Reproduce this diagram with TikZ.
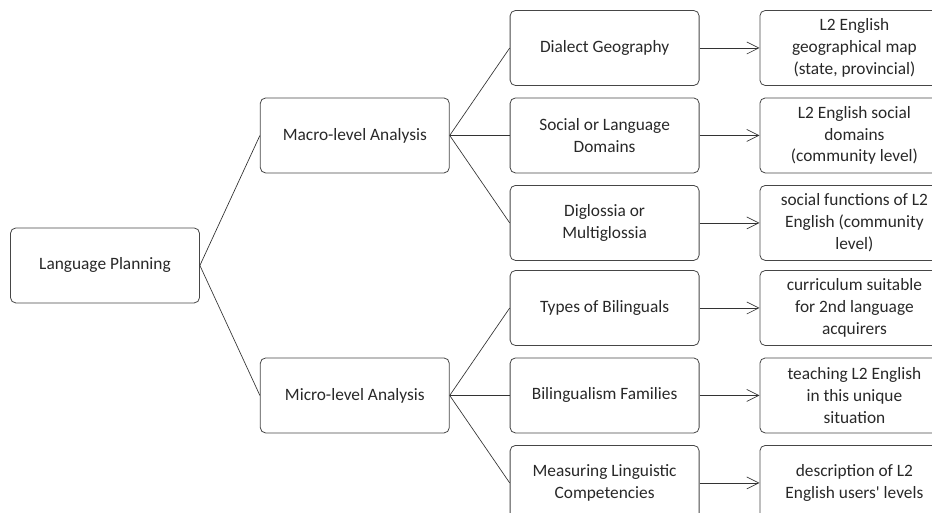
\documentclass[tikz,border=0pt]{standalone}
\usepackage{fontspec}
\setmainfont{Carlito}
\usepackage{tikz}
\usetikzlibrary{arrows.meta, positioning}
\definecolor{cLine}{RGB}{70,70,70}
\definecolor{cText}{RGB}{40,40,40}
\tikzset{
	topic/.style  ={rectangle, rounded corners=4pt, draw=cLine, line width=0.6pt, minimum width=141.75pt, minimum height=56.25pt, inner sep=2pt, align=center, text=cText, font=\fontsize{13}{16.4}\selectfont},
	branch/.style ={draw=black!80, line width=0.5pt},
	leadto/.style ={-{Straight Barb[length=9pt, width=9pt]}, draw=black!80, line width=0.5pt},
}
\begin{document}
\begin{tikzpicture}
	\useasboundingbox (-78.75pt,-185.6pt) rectangle (620.25pt,199.1pt);
	\node[topic] (lp) {Language Planning};
	\node[topic, right=45pt of lp, yshift=97.5pt] (macro) {Macro-level Analysis};
	\node[topic, right=45pt of lp, yshift=-97.5pt] (micro) {Micro-level Analysis};
	% macro branch
	\node[topic, right=45pt of macro] (dom) {Social or Language\\Domains};
	\node[topic, above=8.75pt of dom] (geo) {Dialect Geography};
	\node[topic, below=8.75pt of dom] (diglo) {Diglossia or\\Multiglossia};
	% micro branch
	\node[topic, right=45pt of micro] (fam) {Bilingualism Families};
	\node[topic, above=8.75pt of fam] (types) {Types of Bilinguals};
	\node[topic, below=8.75pt of fam] (meas) {Measuring Linguistic\\Competencies};
	% outcomes
	\node[topic, right=45pt of geo] (geoO) {L2 English\\geographical map\\(state, provincial)};
	\node[topic, right=45pt of dom] (domO) {L2 English social\\domains\\(community level)};
	\node[topic, right=45pt of diglo] (digloO) {social functions of L2\\English (community\\level)};
	\node[topic, right=45pt of types] (typesO) {curriculum suitable\\for 2nd language\\acquirers};
	\node[topic, right=45pt of fam] (famO) {teaching L2 English\\in this unique\\situation};
	\node[topic, right=45pt of meas] (measO) {description of L2\\English users\textquotesingle{} levels};
	\foreach \n in {macro,micro} \draw[branch] (lp.east) -- (\n.west);
	\foreach \n in {geo,dom,diglo} \draw[branch] (macro.east) -- (\n.west);
	\foreach \n in {types,fam,meas} \draw[branch] (micro.east) -- (\n.west);
	\foreach \n in {geo,dom,diglo,types,fam,meas} \draw[leadto] (\n.east) -- (\n O.west);
\end{tikzpicture}
\end{document}
